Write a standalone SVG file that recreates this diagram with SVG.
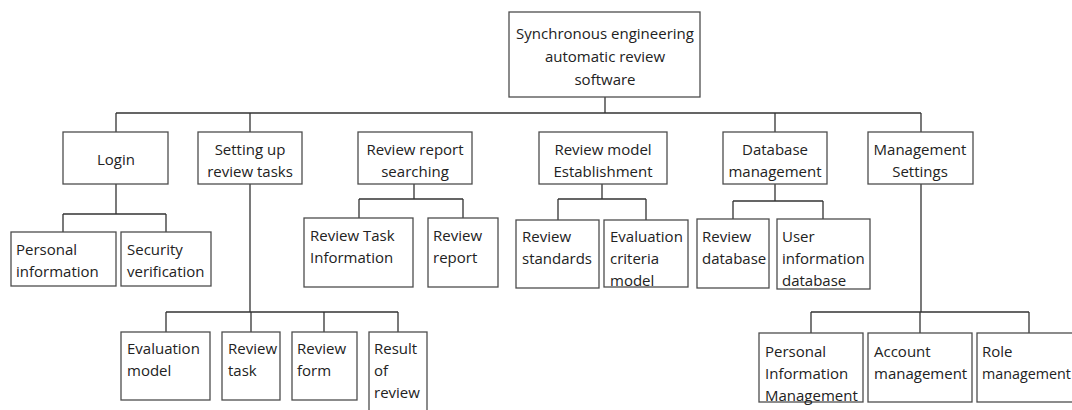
<svg xmlns="http://www.w3.org/2000/svg" width="1072" height="410" viewBox="0 0 1072 410">
<style>
.box{fill:#fff;stroke:#4d4d4d;stroke-width:1.3}
.con{fill:none;stroke:#333;stroke-width:1.3}
text{font-family:"Open Sans","Noto Sans","Liberation Sans",sans-serif;font-size:15px;fill:#222}
.c{text-anchor:middle}
</style>
<rect width="1072" height="410" fill="#fff"/>
<g id="connectors">
<path class="con" d="M605 97V113M116 113H921M116 113V132M250 113V132M775 113V132M921 113V132"/>
<path class="con" d="M116 184V214M63 214H166M63 214V232M166 214V232"/>
<path class="con" d="M250 184V312M166 312H398M166 312V332M251 312V332M324 312V332M398 312V332"/>
<path class="con" d="M414 184V199M359 199H463M359 199V218M463 199V218"/>
<path class="con" d="M602 184V199M558 199H646M558 199V220M646 199V220"/>
<path class="con" d="M775 184V201M733 201H823M733 201V219M823 201V219"/>
<path class="con" d="M921 184V312M811 312H1029M811 312V333M920 312V333M1029 312V333"/>
</g>
<g id="root"><rect class="box" x="509" y="12" width="191" height="85"/><text class="c" x="605" y="39">Synchronous engineering</text><text class="c" x="605" y="62">automatic review</text><text class="c" x="605" y="85">software</text></g>
<g id="login"><rect class="box" x="63" y="132" width="105" height="52"/><text class="c" x="116" y="165">Login</text></g>
<g id="setup"><rect class="box" x="198" y="132" width="104" height="52"/><text class="c" x="250" y="155">Setting up</text><text class="c" x="250" y="177">review tasks</text></g>
<g id="reportsearch"><rect class="box" x="358" y="132" width="114" height="52"/><text class="c" x="415" y="155">Review report</text><text class="c" x="415" y="177">searching</text></g>
<g id="modelest"><rect class="box" x="539" y="132" width="128" height="52"/><text class="c" x="603" y="155">Review model</text><text class="c" x="603" y="177">Establishment</text></g>
<g id="dbmgmt"><rect class="box" x="723" y="132" width="104" height="52"/><text class="c" x="775" y="155">Database</text><text class="c" x="775" y="177">management</text></g>
<g id="mgmtset"><rect class="box" x="868" y="132" width="105" height="52"/><text class="c" x="920" y="155">Management</text><text class="c" x="920" y="177">Settings</text></g>
<g id="personalinfo"><rect class="box" x="11" y="232" width="105" height="54"/><text x="16" y="255">Personal</text><text x="16" y="277">information</text></g>
<g id="security"><rect class="box" x="121" y="232" width="90" height="54"/><text x="127" y="255">Security</text><text x="127" y="277">verification</text></g>
<g id="taskinfo"><rect class="box" x="304" y="218" width="109" height="69"/><text x="310" y="241">Review Task</text><text x="310" y="263">Information</text></g>
<g id="report"><rect class="box" x="428" y="218" width="70" height="69"/><text x="433" y="241">Review</text><text x="433" y="263">report</text></g>
<g id="standards"><rect class="box" x="516" y="220" width="83" height="68"/><text x="522" y="242">Review</text><text x="522" y="264">standards</text></g>
<g id="criteria"><rect class="box" x="604" y="220" width="84" height="67"/><text x="610" y="242">Evaluation</text><text x="610" y="264">criteria</text><text x="610" y="286">model</text></g>
<g id="reviewdb"><rect class="box" x="697" y="219" width="72" height="69"/><text x="702" y="242">Review</text><text x="702" y="264">database</text></g>
<g id="userdb"><rect class="box" x="777" y="219" width="93" height="70"/><text x="782" y="242">User</text><text x="782" y="264">information</text><text x="782" y="286">database</text></g>
<g id="evalmodel"><rect class="box" x="121" y="332" width="89" height="68"/><text x="127" y="354">Evaluation</text><text x="127" y="376">model</text></g>
<g id="reviewtask"><rect class="box" x="222" y="332" width="58" height="68"/><text x="228" y="354">Review</text><text x="228" y="376">task</text></g>
<g id="reviewform"><rect class="box" x="292" y="332" width="65" height="68"/><text x="297" y="354">Review</text><text x="297" y="376">form</text></g>
<g id="result"><rect class="box" x="369" y="332" width="58" height="85"/><text x="374" y="354">Result</text><text x="374" y="376">of</text><text x="374" y="398">review</text></g>
<g id="pim"><rect class="box" x="759" y="333" width="104" height="69"/><text x="765" y="357">Personal</text><text x="765" y="379">Information</text><text x="765" y="401">Management</text></g>
<g id="account"><rect class="box" x="868" y="333" width="104" height="69"/><text x="874" y="357">Account</text><text x="874" y="379">management</text></g>
<g id="role"><rect class="box" x="977" y="333" width="104" height="69"/><text x="982" y="357">Role</text><text x="982" y="379" style="font-size:14.3px">management</text></g>
</svg>
